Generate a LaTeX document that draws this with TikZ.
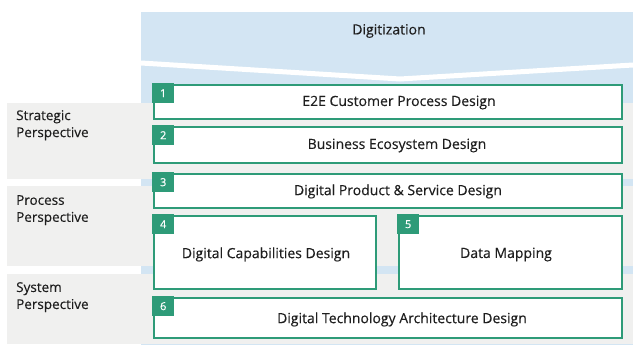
\documentclass[tikz,border=0pt]{standalone}
\usepackage{fontspec}
\setmainfont{Open Sans}[FakeBold=0.25]
\newfontfamily\tagfont{Open Sans}[FakeBold=0.6]
\definecolor{bluebg}{HTML}{D3E5F3}
\definecolor{graybg}{HTML}{F0F0EF}
\definecolor{tealgreen}{HTML}{2E9B78}
\definecolor{txt}{HTML}{1E1E1E}
\begin{document}
\begin{tikzpicture}[x=1pt,y=-1pt,
  box/.style={draw=tealgreen, line width=2pt, fill=white, anchor=north west, inner sep=0pt},
  tag/.style={fill=tealgreen, text=white, font=\tagfont\fontsize{11}{12}\selectfont, inner sep=0pt, minimum width=22pt, minimum height=20pt, anchor=north west},
  lbl/.style={font=\fontsize{14}{16}\selectfont, text=txt, inner sep=0pt},
  side/.style={font=\fontsize{13.5}{17}\selectfont, text=txt, align=left, anchor=north west, inner sep=0pt}]
\useasboundingbox (0,0) rectangle (633,345);
% blue column
\fill[bluebg] (141,12) rectangle (633,345);
\draw[white, line width=5pt] (141,63) -- (400,79) -- (633,65);
% gray bands
\fill[graybg] (7,103) rectangle (633,179);
\fill[graybg] (7,186) rectangle (633,266);
\fill[graybg] (7,274) rectangle (633,344);
% title
\node[lbl] (dig) at (389,31) {Digitization};
% side labels
\node[side] (sp) at (16,110) {Strategic\\Perspective};
\node[side] (pp) at (16,195) {Process\\Perspective};
\node[side] (syp) at (16,282) {System\\Perspective};
% boxes
\node[box, minimum width=468pt, minimum height=34pt] (b1) at (153,84) {};
\node[box, minimum width=468pt, minimum height=36pt] (b2) at (153,126) {};
\node[box, minimum width=468pt, minimum height=34pt] (b3) at (153,173) {};
\node[box, minimum width=222pt, minimum height=73pt] (b4) at (153,215) {};
\node[box, minimum width=223pt, minimum height=73pt] (b5) at (398,215) {};
\node[box, minimum width=468pt, minimum height=40pt] (b6) at (153,297) {};
% tags
\foreach \b/\n in {b1/1,b2/2,b3/3,b4/4,b5/5,b6/6}
  \node[tag] (tag\n) at ([shift={(-1,-1)}]\b.north west) {\n};
% texts
\node[lbl] (t1) at (399,102.5) {E2E Customer Process Design};
\node[lbl] (t2) at (397,145.5) {Business Ecosystem Design};
\node[lbl] (t3) at (398,191.5) {Digital Product \& Service Design};
\node[lbl] (t4) at (266,254.5) {Digital Capabilities Design};
\node[lbl] (t5) at (506,254.5) {Data Mapping};
\node[lbl] (t6) at (402,319.5) {Digital Technology Architecture Design};
\end{tikzpicture}
\end{document}
